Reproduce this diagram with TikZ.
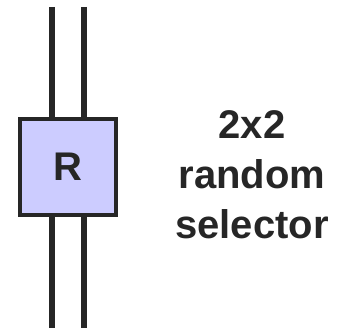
\documentclass[tikz,border=0pt]{standalone}
\usepackage{fontspec}
\setmainfont{Liberation Sans}
\definecolor{ink}{RGB}{38,38,38}
\definecolor{boxfill}{RGB}{204,204,255}
\begin{document}
\begin{tikzpicture}[x=1pt,y=-1pt,
  wire/.style={draw=ink,line width=6pt},
  rbox/.style={draw=ink,fill=boxfill,line width=4pt,minimum width=96pt,minimum height=96pt,inner sep=0pt,
    font=\bfseries\fontsize{40}{47}\selectfont,text=ink},
  caption/.style={align=center,inner sep=0pt,text=ink,font=\bfseries\fontsize{40}{50}\selectfont}]
\useasboundingbox (0,0) rectangle (347,331);
\coordinate (t1) at (52,7);
\coordinate (b1) at (52,328);
\coordinate (t2) at (84,7);
\coordinate (b2) at (84,328);
\draw[wire] (t1) -- (b1);
\draw[wire] (t2) -- (b2);
\node[rbox] (r) at (68,167) {\raisebox{-2.5pt}{R}};
\node[caption,anchor=north] (lbl) at (252,110) {2x2\\random\\selector};
\end{tikzpicture}
\end{document}
